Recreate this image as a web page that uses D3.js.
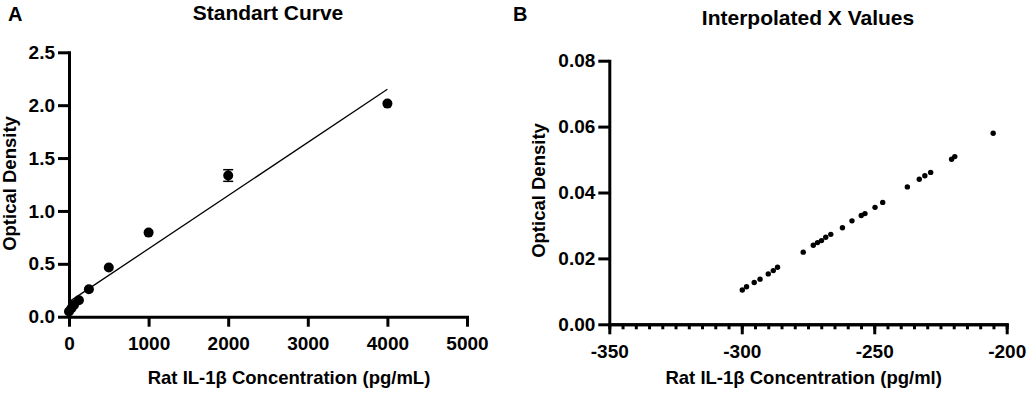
<!DOCTYPE html>
<html>
<head>
<meta charset="utf-8">
<script src="https://cdn.jsdelivr.net/npm/d3@7"></script>
<style>
  body { margin: 0; background: #fff; }
  svg text { font-family: "Liberation Sans", Arial, sans-serif; font-weight: bold; fill: #000; }
</style>
</head>
<body>
<svg id="chart" width="1029" height="393"></svg>
<script>
// panel A: standard curve
const stdConc = [0, 31.25, 62.5, 125, 250, 500, 1000, 2000, 4000];
const stdOD = [0.05, 0.08, 0.11, 0.155, 0.26, 0.465, 0.795, 1.335, 2.015];
const stdSD = [0, 0, 0, 0, 0, 0, 0, 0.055, 0];
const fitConc = [0, 4000];
const fitOD = [0.14, 2.15];
const xTicksA = [0, 1000, 2000, 3000, 4000, 5000];
const yTicksA = [0, 0.5, 1.0, 1.5, 2.0, 2.5];

// panel B: interpolated x values
const interpConc = [-299.8, -298.2, -295.3, -293.1, -290.0, -288.1, -286.5, -276.8, -273.0, -271.4,
  -269.9, -268.3, -266.4, -262.0, -258.4, -254.9, -253.5, -249.7, -246.8, -237.5,
  -233.0, -230.9, -228.7, -220.8, -219.6, -205.1];
const interpOD = [0.0104, 0.0114, 0.0127, 0.0137, 0.0153, 0.0163, 0.0173, 0.0219, 0.0240, 0.0248,
  0.0254, 0.0264, 0.0273, 0.0293, 0.0314, 0.0330, 0.0336, 0.0355, 0.0370, 0.0417,
  0.0440, 0.0451, 0.0461, 0.0501, 0.0509, 0.0580];
const xTicksB = [-350, -300, -250, -200];
const xMinorStepB = 5;
const yTicksB = [0, 0.02, 0.04, 0.06, 0.08];

const svg = d3.select("#chart");

const xA = d3.scaleLinear().domain([0, 5000]).range([69, 467]);
const yA = d3.scaleLinear().domain([0, 2.5]).range([316.7, 52.3]);
const xB = d3.scaleLinear().domain([-350, -200]).range([609.3, 1006.7]);
const yB = d3.scaleLinear().domain([0, 0.08]).range([324.3, 60.7]);

function styleAxis(g) {
  g.attr("font-size", null).attr("font-family", null);
  g.select(".domain").attr("stroke-width", 3).attr("stroke-linecap", "square");
  g.selectAll(".tick line").attr("stroke-width", 3);
  g.selectAll(".tick text").style("font-size", "19px");
}

// ---- panel A ----
svg.append("g")
  .attr("transform", `translate(0, ${yA(0)})`)
  .call(d3.axisBottom(xA).tickValues(xTicksA).tickFormat(d3.format("d"))
    .tickSize(10).tickSizeOuter(0).tickPadding(10))
  .call(styleAxis);

svg.append("g")
  .attr("transform", `translate(${xA(0)}, 0)`)
  .call(d3.axisLeft(yA).tickValues(yTicksA).tickFormat(d3.format(".1f"))
    .tickSize(11).tickSizeOuter(0).tickPadding(3))
  .call(styleAxis);

// fitted line
svg.append("path")
  .datum(fitConc.map((c, i) => [c, fitOD[i]]))
  .attr("fill", "none")
  .attr("stroke", "#000")
  .attr("stroke-width", 1.3)
  .attr("d", d3.line().x(d => xA(d[0])).y(d => yA(d[1])));

// error bars
const errs = svg.append("g").selectAll("g")
  .data(stdConc.map((c, i) => ({ c, od: stdOD[i], sd: stdSD[i] })).filter(d => d.sd > 0))
  .enter().append("g")
  .attr("stroke", "#000").attr("stroke-width", 1.5);
errs.append("line")
  .attr("x1", d => xA(d.c)).attr("x2", d => xA(d.c))
  .attr("y1", d => yA(d.od - d.sd)).attr("y2", d => yA(d.od + d.sd));
errs.append("line")
  .attr("x1", d => xA(d.c) - 5).attr("x2", d => xA(d.c) + 5)
  .attr("y1", d => yA(d.od + d.sd)).attr("y2", d => yA(d.od + d.sd));
errs.append("line")
  .attr("x1", d => xA(d.c) - 5).attr("x2", d => xA(d.c) + 5)
  .attr("y1", d => yA(d.od - d.sd)).attr("y2", d => yA(d.od - d.sd));

svg.append("g").selectAll("circle")
  .data(stdConc)
  .enter().append("circle")
  .attr("cx", d => xA(d))
  .attr("cy", (d, i) => yA(stdOD[i]))
  .attr("r", 5)
  .attr("fill", "#000");

svg.append("text").attr("x", 8).attr("y", 21).style("font-size", "20px").text("A");
svg.append("text").attr("x", 268).attr("y", 20).attr("text-anchor", "middle")
  .style("font-size", "21px").text("Standart Curve");
svg.append("text").attr("x", 289).attr("y", 383.5).attr("text-anchor", "middle")
  .style("font-size", "18.5px").text("Rat IL-1β Concentration (pg/mL)");
svg.append("text").attr("transform", "translate(16, 183.5) rotate(-90)")
  .attr("text-anchor", "middle").style("font-size", "18.5px").text("Optical Density");

// ---- panel B ----
svg.append("g")
  .attr("transform", `translate(0, ${yB(0)})`)
  .call(d3.axisBottom(xB).tickValues(d3.range(-350, -199, xMinorStepB)).tickFormat("")
    .tickSize(5).tickSizeOuter(0))
  .call(styleAxis);

svg.append("g")
  .attr("transform", `translate(0, ${yB(0)})`)
  .call(d3.axisBottom(xB).tickValues(xTicksB).tickFormat(d => String(d))
    .tickSize(10).tickSizeOuter(0).tickPadding(10))
  .call(styleAxis);

svg.append("g")
  .attr("transform", `translate(${xB(-350)}, 0)`)
  .call(d3.axisLeft(yB).tickValues(yTicksB).tickFormat(d3.format(".2f"))
    .tickSize(11).tickSizeOuter(0).tickPadding(3))
  .call(styleAxis);

svg.append("g").selectAll("circle")
  .data(interpConc)
  .enter().append("circle")
  .attr("cx", d => xB(d))
  .attr("cy", (d, i) => yB(interpOD[i]))
  .attr("r", 2.7)
  .attr("fill", "#000");

svg.append("text").attr("x", 513).attr("y", 21).style("font-size", "20px").text("B");
svg.append("text").attr("x", 808).attr("y", 25).attr("text-anchor", "middle")
  .style("font-size", "21px").text("Interpolated X Values");
svg.append("text").attr("x", 803.7).attr("y", 384).attr("text-anchor", "middle")
  .style("font-size", "18.5px").text("Rat IL-1β Concentration (pg/ml)");
svg.append("text").attr("transform", "translate(545, 190.5) rotate(-90)")
  .attr("text-anchor", "middle").style("font-size", "18.5px").text("Optical Density");
</script>
</body>
</html>
